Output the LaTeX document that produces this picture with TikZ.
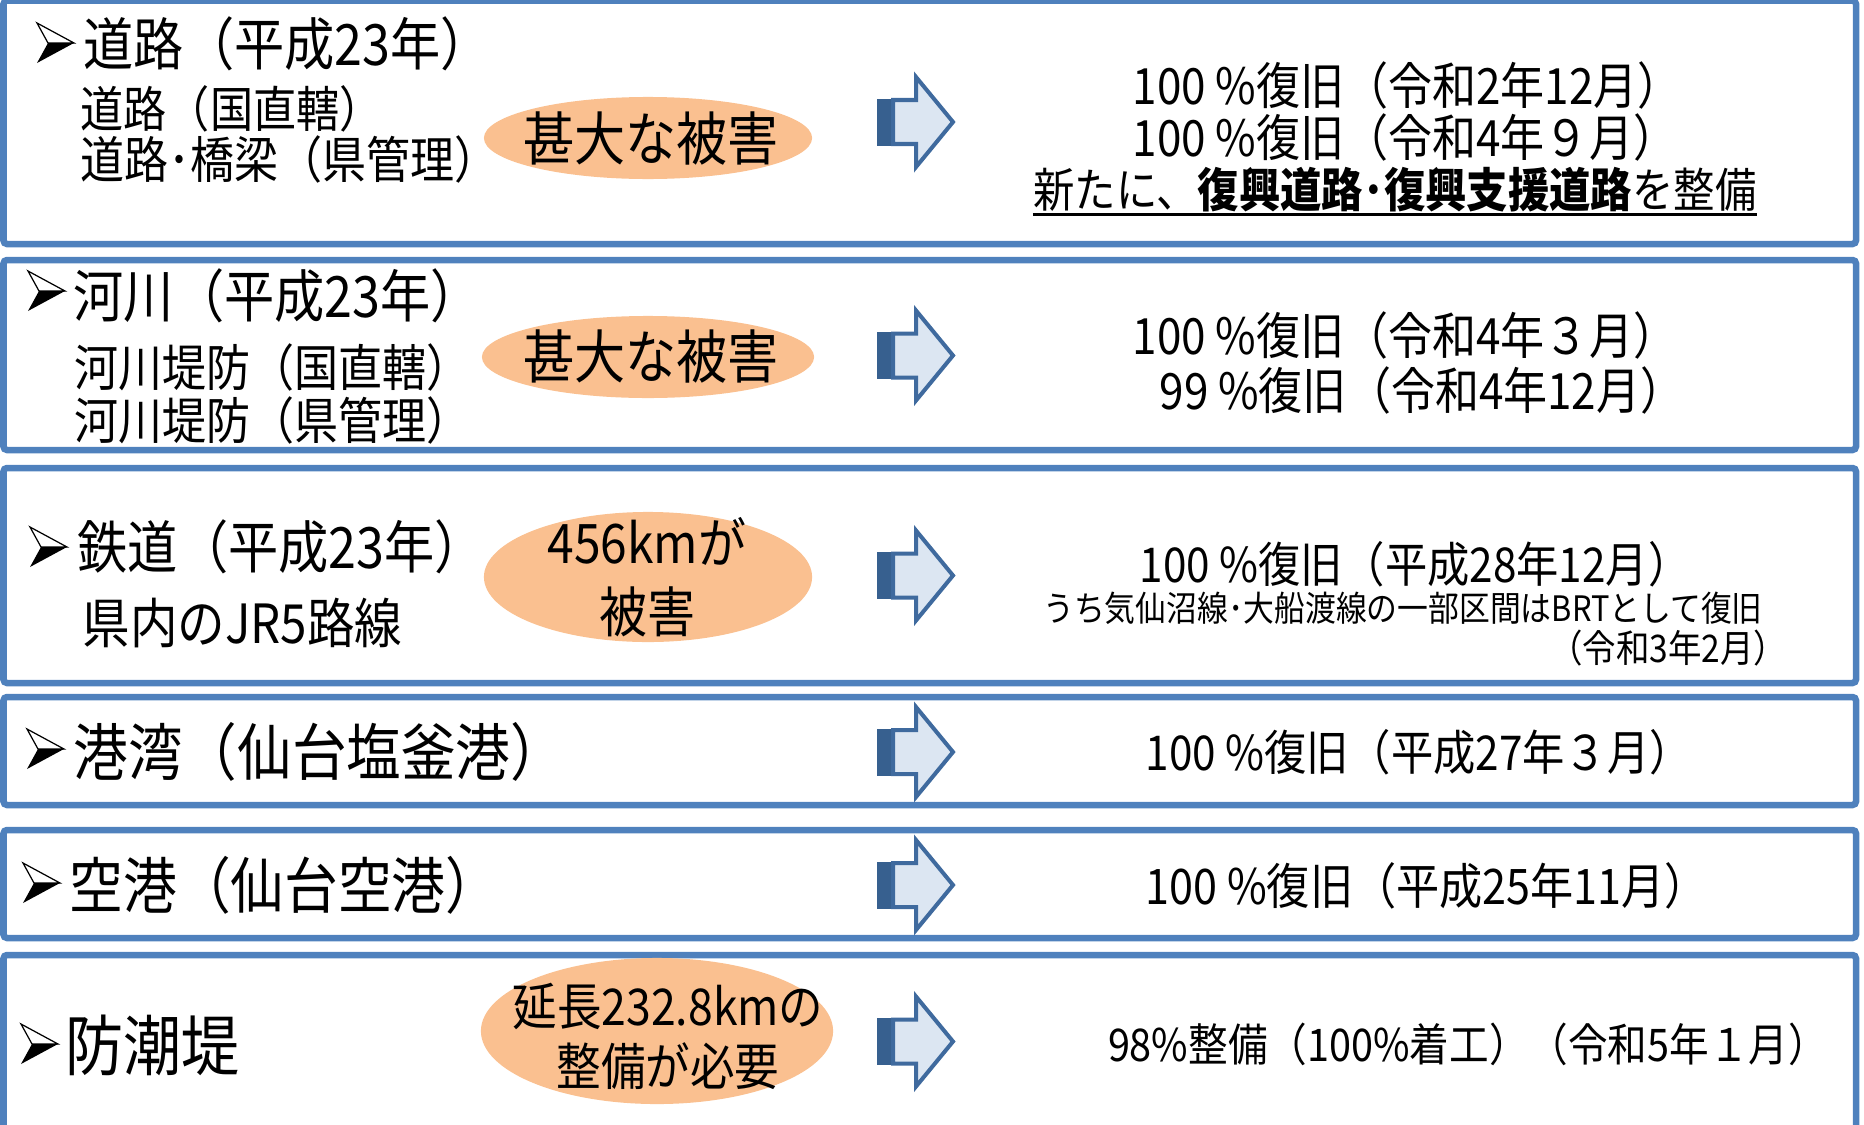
\documentclass[tikz,border=0pt]{standalone}
\usepackage{fontspec}
\setmainfont{Noto Sans CJK JP}[FakeStretch=0.88]
\usetikzlibrary{shapes.geometric}
\definecolor{boxblue}{HTML}{4F81BD}
\definecolor{blobfill}{HTML}{FAC090}
\definecolor{arrfill}{HTML}{DCE6F2}
\definecolor{arrline}{HTML}{3F6A9E}
\definecolor{arrdark}{HTML}{37608F}
\newcommand\pxsize[1]{\fontsize{\the\dimexpr 0.28453pt*#1\relax}{\the\dimexpr 0.34pt*#1\relax}\selectfont}
\begin{document}
\begin{tikzpicture}[x=0.01cm,y=-0.01cm,
  box/.style={draw=boxblue,line width=1.85pt,rounded corners=1pt},
  blob/.style={ellipse,fill=blobfill,inner sep=0pt},
  txt/.style={inner sep=0pt,text=black},
  head/.style={txt,anchor=west},
  bul/.pic={
    \draw[black,line width=0.35pt,fill=white,line join=miter] (0,-20) -- (37,0) -- (11,0) -- cycle;
    \fill[black] (11,0) -- (37,0) -- (0,20) -- cycle;
  },
  barrow/.pic={
    \fill[arrdark] (0,-23.5) rectangle (18,23.5);
    \draw[draw=arrline,fill=arrfill,line width=1.14pt,line join=miter]
      (16,-22) -- (39,-22) -- (39,-45) -- (76,0) -- (39,45) -- (39,22) -- (16,22) -- cycle;
  }]
\useasboundingbox (0,0) rectangle (1864,1124);
\clip (0,0) rectangle (1864,1124);
% boxes
\draw[box] (3.5,0.5) rectangle (1856,244);
\draw[box] (3.5,260) rectangle (1856,450);
\draw[box] (3.5,468) rectangle (1856,683);
\draw[box] (3.5,697) rectangle (1856,805);
\draw[box] (3.5,830) rectangle (1856,938);
\draw[box] (3.5,955) rectangle (1856,1145);
% bullets
\pic at (37,43) {bul};
\pic at (28,291) {bul};
\pic at (30,547) {bul};
\pic at (27,749) {bul};
\pic at (23,883) {bul};
\pic at (21,1044) {bul};
% arrows
\pic at (877,122) {barrow};
\pic at (877,355.5) {barrow};
\pic at (877,575.5) {barrow};
\pic at (877,752) {barrow};
\pic at (877,885) {barrow};
\pic at (877,1041.5) {barrow};
% ellipses
\node[blob,minimum width=3.28cm,minimum height=0.82cm] (e1) at (648,138) {};
\node[blob,minimum width=3.32cm,minimum height=0.82cm] (e2) at (648,357) {};
\node[blob,minimum width=3.28cm,minimum height=1.30cm] (e3) at (648,577) {};
\node[blob,minimum width=3.52cm,minimum height=1.46cm] (e4) at (657,1031) {};
\node[txt,font=\pxsize{58}] (t1) at (651,138.5) {甚大な被害};
\node[txt,font=\pxsize{58}] (t2) at (651,357) {甚大な被害};
\node[txt,align=center,font={\fontsize{15.5pt}{19.63pt}\selectfont}] (t3) at (647,577) {456kmが\\被害};
\node[txt,align=center,font={\fontsize{14.4pt}{17.07pt}\selectfont}] (t4) at (668,1036) {延長232.8kmの\\整備が必要};
% headings
\node[head,font=\pxsize{57}] (h1) at (83,44) {道路（平成23年）};
\node[head,font=\pxsize{49.5}] (s1a) at (80,109) {道路（国直轄）};
\node[head,font=\pxsize{50.5}] (s1b) at (80,159) {道路･橋梁（県管理）};
\node[head,font=\pxsize{57}] (h2) at (73,296) {河川（平成23年）};
\node[head,font=\pxsize{50}] (s2a) at (74,367) {河川堤防（国直轄）};
\node[head,font=\pxsize{50}] (s2b) at (74,420) {河川堤防（県管理）};
\node[head,font=\pxsize{57}] (h3) at (77,547) {鉄道（平成23年）};
\node[head,font=\pxsize{54.5}] (s3) at (82,623) {県内のJR5路線};
\node[head,font=\pxsize{62}] (h4) at (73,752) {港湾（仙台塩釜港）};
\node[head,font=\pxsize{61}] (h5) at (69,885) {空港（仙台空港）};
\node[head,font=\pxsize{66}] (h6) at (65,1045) {防潮堤};
% results
\node[head,font=\pxsize{50}] (r1a) at (1132,85) {100 \%復旧（令和2年12月）};
\node[head,font=\pxsize{50}] (r1b) at (1132,137) {100 \%復旧（令和4年９月）};
\node[txt,font=\pxsize{47.5}] (r1c) at (1395,190) {新たに、{\bfseries 復興道路･復興支援道路}を整備};
\draw[black,line width=0.7pt] ([yshift=-0.4pt]r1c.south west) -- ([yshift=-0.4pt]r1c.south east);
\node[head,font=\pxsize{50}] (r2a) at (1132,335) {100 \%復旧（令和4年３月）};
\node[head,font=\pxsize{50}] (r2b) at (1159,390) {99 \%復旧（令和4年12月）};
\node[head,font=\pxsize{48.5}] (r3a) at (1139,564) {100 \%復旧（平成28年12月）};
\node[txt,font=\pxsize{35.5}] (r3b) at (1403,608) {うち気仙沼線･大船渡線の一部区間はBRTとして復旧};
\node[txt,anchor=east,font=\pxsize{38}] (r3c) at (1788,648) {（令和3年2月）};
\node[head,font=\pxsize{48}] (r4) at (1145,752) {100 \%復旧（平成27年３月）};
\node[head,font=\pxsize{49}] (r5) at (1145,886) {100 \%復旧（平成25年11月）};
\node[txt,font=\pxsize{45.5}] (r6) at (1468,1044) {98\%整備（100\%着工）（令和5年１月）};
\end{tikzpicture}
\end{document}
